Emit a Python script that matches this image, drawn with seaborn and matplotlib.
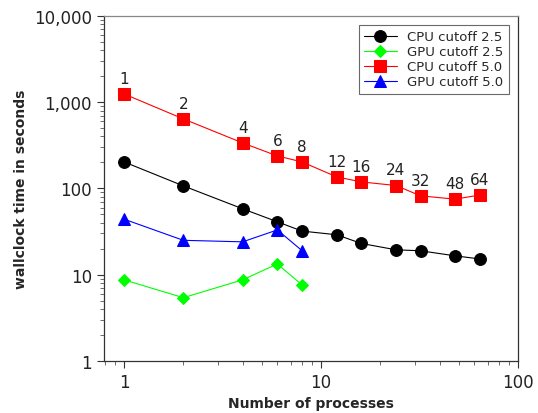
import pandas as pd
import matplotlib
matplotlib.use("Agg")
import matplotlib.pyplot as plt
import matplotlib.ticker as mticker
import seaborn as sns

# processes
cpu_procs = [1, 2, 4, 6, 8, 12, 16, 24, 32, 48, 64]
gpu_procs = [1, 2, 4, 6, 8]

# wallclock times (s)
cpu_25 = [203, 107, 58, 41, 32, 29, 23, 19.4, 18.9, 16.5, 15.2]
gpu_25 = [8.7, 5.4, 8.7, 13.3, 7.6]
cpu_50 = [1247, 640, 337, 238, 203, 136, 119, 108, 82, 75, 84]
gpu_50 = [44, 25, 24, 33, 19]

series = [
    ("CPU cutoff 2.5", cpu_procs, cpu_25),
    ("GPU cutoff 2.5", gpu_procs, gpu_25),
    ("CPU cutoff 5.0", cpu_procs, cpu_50),
    ("GPU cutoff 5.0", gpu_procs, gpu_50),
]
rows = []
for name, xs, ys in series:
    for x, y in zip(xs, ys):
        rows.append({"procs": x, "time": y, "run": name})
df = pd.DataFrame(rows)

sns.set_style("white")
plt.rcParams['font.family'] = ['DejaVu Sans']

fig = plt.figure(figsize=(5.38, 4.14), dpi=100)
ax = fig.add_axes([0.193, 0.126, 0.770, 0.833])

palette = {"CPU cutoff 2.5": "black", "GPU cutoff 2.5": "#00ff00",
           "CPU cutoff 5.0": "#ff0000", "GPU cutoff 5.0": "#0000ff"}
markers = {"CPU cutoff 2.5": "o", "GPU cutoff 2.5": "D",
           "CPU cutoff 5.0": "s", "GPU cutoff 5.0": "^"}
sizes_m = {"CPU cutoff 2.5": 8.5, "GPU cutoff 2.5": 6.5,
           "CPU cutoff 5.0": 8.5, "GPU cutoff 5.0": 8}

for name, _, _ in series:
    sub = df[df["run"] == name]
    sns.lineplot(data=sub, x="procs", y="time", ax=ax, color=palette[name],
                 marker=markers[name], markersize=sizes_m[name],
                 markeredgecolor=palette[name], linewidth=0.8, label=name)

# process-count labels over the red series
for x, y in zip(cpu_procs, cpu_50):
    ax.annotate(str(x), (x, y), xytext=(0, 6), textcoords="offset points",
                ha="center", va="bottom", fontsize=11, color="#222222")

ax.set_xscale("log")
ax.set_yscale("log")
ax.set_xlim(0.79, 100)
ax.set_ylim(1, 10000)
ax.yaxis.set_major_formatter(mticker.FuncFormatter(lambda v, p: f"{v:,.0f}"))
ax.xaxis.set_major_formatter(mticker.FuncFormatter(lambda v, p: f"{v:,.0f}"))
ax.tick_params(which="major", direction="out", length=5, labelsize=12,
               left=True, bottom=True, colors="#333333", labelcolor="#222222")
ax.tick_params(which="minor", direction="out", length=3, left=True, bottom=True,
               colors="#555555")

for s in ax.spines.values():
    s.set_color("#333333")
    s.set_linewidth(0.9)
ax.spines["top"].set_color("#888888")

ax.set_xlabel("Number of processes", fontsize=10, fontweight="bold")
ax.set_ylabel("wallclock time in seconds", fontsize=10, fontweight="bold")

leg = ax.legend(loc="upper right", fontsize=9.5, frameon=True, fancybox=False,
                borderaxespad=0.7, handlelength=2.5, labelspacing=0.15)
leg.get_frame().set_edgecolor("#444444")
leg.get_frame().set_linewidth(0.8)

fig.savefig("out.png", dpi=100)
